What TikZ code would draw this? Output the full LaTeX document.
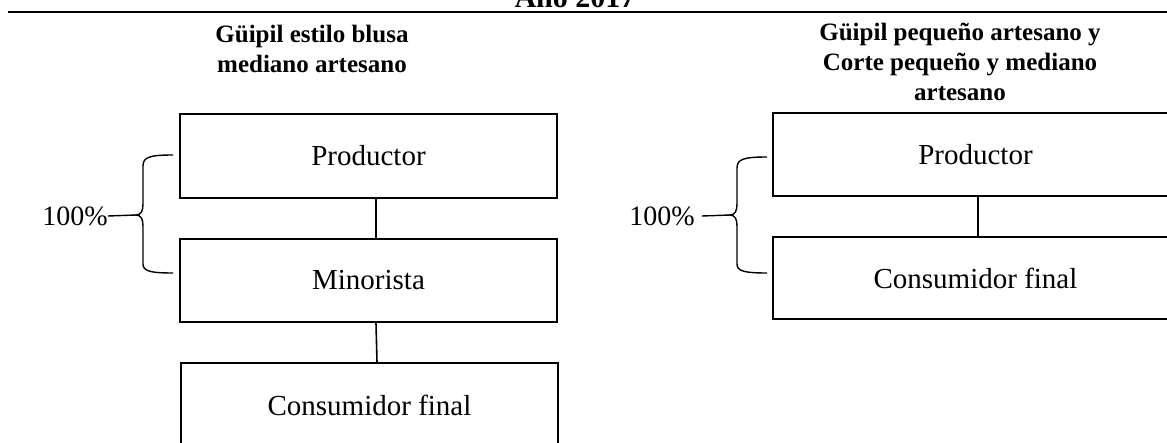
\documentclass[tikz,border=0pt]{standalone}
\usepackage{fontspec}
\setmainfont{Liberation Serif}
\begin{document}
\begin{tikzpicture}[x=1pt,y=-1pt,
  box/.style={draw,line width=1.6pt,minimum height=84pt,inner sep=0pt,font=\fontsize{29}{32}\selectfont},
  head/.style={font=\fontsize{25}{30}\selectfont\bfseries,align=center,inner sep=0pt},
  pct/.style={font=\fontsize{28}{30}\selectfont,inner sep=0pt},
  ln/.style={line width=1.6pt},
  br/.style={line width=1.4pt}]
\useasboundingbox (0,0) rectangle (1167,442);
\clip (0,0) rectangle (1167,442);
% title and rule
\node[font=\fontsize{30}{32}\selectfont\bfseries,anchor=base,inner sep=0pt] (title) at (575,7) {Año 2017};
\coordinate (r1) at (8,12);
\coordinate (r2) at (1170,12);
\draw[ln] (r1) -- (r2);
% left column
\node[head] (hl) at (312,49) {Güipil estilo blusa\\mediano artesano};
\node[box,minimum width=377pt] (lp) at (368.5,156) {Productor};
\node[box,minimum width=377pt,minimum height=83pt] (lm) at (368.5,280.5) {Minorista};
\node[box,minimum width=377pt] (lc) at (369.5,405) {Consumidor final};
\draw[ln] ([xshift=7.5pt]lp.south) -- ([xshift=7.5pt]lm.north);
\draw[ln] ([xshift=7.5pt]lm.south) -- ([xshift=7.5pt]lc.north);
% left brace
\node[pct] (lpct) at (75,216) {100\%};
\coordinate (ltip) at (136,215);
\draw[br] (173,155) .. controls (150,155) and (143,157) .. (143,166) -- (143,204)
  .. controls (143,211) and (141,215) .. (ltip)
  .. controls (141,215) and (143,219) .. (143,226) -- (143,264)
  .. controls (143,271) and (150,273) .. (173,273);
\draw[br] (lpct.east) -- (ltip);
% right column
\node[head] (hr) at (960,62) {Güipil pequeño artesano y\\Corte pequeño y mediano\\artesano};
\node[box,minimum width=405pt,minimum height=83pt] (rp) at (975.5,154.5) {Productor};
\node[box,minimum width=405pt,minimum height=82pt] (rc) at (975.5,278) {Consumidor final};
\draw[ln] ([xshift=2.5pt]rp.south) -- ([xshift=2.5pt]rc.north);
% right brace
\node[pct] (rpct) at (662,216) {100\%};
\coordinate (rtip) at (730,215);
\draw[br] (767,157) .. controls (744,157) and (737,159) .. (737,168) -- (737,204)
  .. controls (737,211) and (735,215) .. (rtip)
  .. controls (735,215) and (737,219) .. (737,226) -- (737,264)
  .. controls (737,271) and (744,273) .. (767,273);
\draw[br] ([xshift=7pt]rpct.east) -- (rtip);
\end{tikzpicture}
\end{document}
